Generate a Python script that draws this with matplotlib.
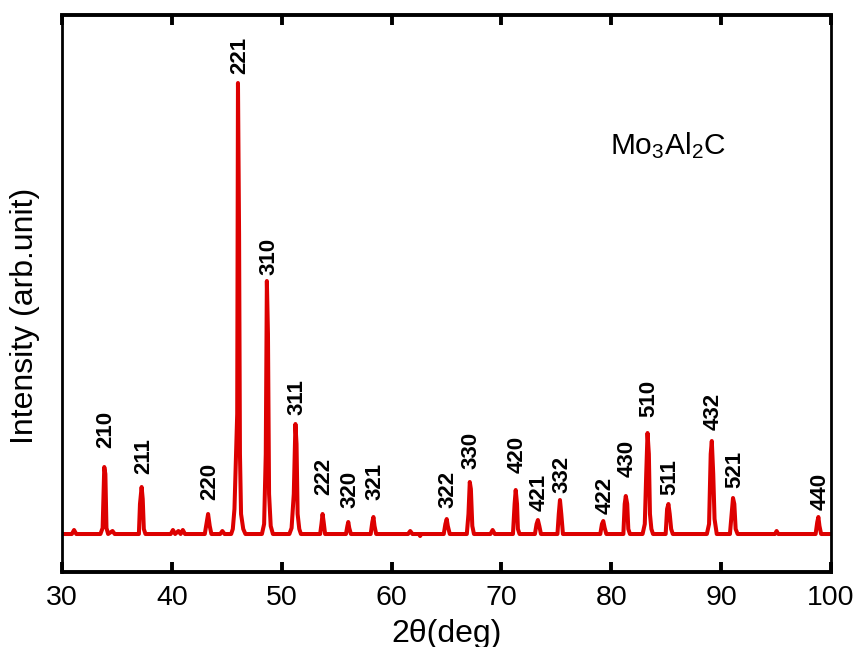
import numpy as np
import matplotlib.pyplot as plt

plt.rcParams['font.family'] = ['Liberation Sans', 'DejaVu Sans']
plt.rcParams['mathtext.fontset'] = 'custom'
plt.rcParams['mathtext.rm'] = 'Liberation Sans'
plt.rcParams['mathtext.it'] = 'Liberation Sans:italic'

# XRD pattern (2theta in deg, intensity in arb. units)
two_theta = [30.0, 30.9, 31.1, 31.3,
             33.5, 33.7, 33.85, 33.95, 34.05, 34.2, 34.6, 34.8,
             37.0, 37.1, 37.25, 37.35, 37.45, 37.6,
             39.9, 40.1, 40.3, 40.6, 40.8, 41.0, 41.2,
             43.0, 43.15, 43.3, 43.45, 43.6, 44.4, 44.6, 44.8,
             45.4, 45.55, 45.7, 45.95, 46.02, 46.12, 46.2, 46.3, 46.5, 46.7,
             48.2, 48.4, 48.55, 48.65, 48.75, 48.85, 49.0, 49.2,
             50.7, 50.9, 51.1, 51.25, 51.35, 51.45, 51.6, 51.75,
             53.5, 53.62, 53.72, 53.82, 53.95,
             55.85, 55.98, 56.06, 56.15, 56.3,
             58.1, 58.25, 58.35, 58.45, 58.6,
             61.5, 61.7, 61.9, 62.5, 62.6, 62.7,
             64.75, 64.9, 65.02, 65.12, 65.3,
             66.85, 67.0, 67.12, 67.22, 67.35, 67.5,
             69.0, 69.2, 69.4,
             71.05, 71.2, 71.3, 71.42, 71.5, 71.65,
             73.05, 73.2, 73.32, 73.45, 73.6,
             75.1, 75.22, 75.33, 75.45, 75.6,
             79.0, 79.15, 79.27, 79.4, 79.55,
             81.1, 81.22, 81.32, 81.45, 81.55, 81.7,
             82.85, 83.05, 83.18, 83.3, 83.42, 83.52, 83.65, 83.8,
             84.95, 85.08, 85.2, 85.32, 85.45, 85.6,
             88.7, 88.9, 89.05, 89.15, 89.28, 89.4, 89.6,
             90.8, 90.95, 91.08, 91.2, 91.32, 91.5,
             94.9, 95.05, 95.2,
             98.6, 98.75, 98.85, 98.95, 99.1, 100.0]
intensity = [0, 0, 4, 0,
             0, 6, 67, 60, 6, 0, 3, 0,
             0, 30, 47, 35, 5, 0,
             0, 4, 0, 3, 0, 4, 0,
             0, 10, 20, 8, 0, 0, 3, 0,
             0, 5, 25, 120, 451, 300, 80, 20, 5, 0,
             0, 10, 80, 253, 200, 40, 8, 0,
             0, 6, 40, 110, 90, 20, 5, 0,
             0, 10, 20, 12, 0,
             0, 8, 12, 6, 0,
             0, 12, 17, 8, 0,
             0, 3, 0, 0, -2, 0,
             0, 10, 15, 8, 0,
             0, 20, 52, 45, 8, 0,
             0, 4, 0,
             0, 30, 44, 30, 5, 0,
             0, 10, 14, 8, 0,
             0, 20, 34, 20, 0,
             0, 10, 13, 6, 0,
             0, 30, 38, 30, 5, 0,
             0, 10, 60, 101, 80, 20, 5, 0,
             0, 25, 30, 20, 5, 0,
             0, 10, 80, 93, 60, 15, 0,
             0, 20, 36, 30, 5, 0,
             0, 3, 0,
             0, 12, 17, 8, 0, 0]

# Miller indices of the indexed reflections
hkl = ['210', '211', '220', '221', '310', '311', '222', '320', '321', '322',
       '330', '420', '421', '332', '422', '430', '510', '511', '432', '521',
       '440']
peak_pos = [33.85, 37.25, 43.3, 46.02, 48.65, 51.25, 53.72, 56.06, 58.35,
            65.02, 67.12, 71.3, 73.32, 75.33, 79.27, 81.32, 83.3, 85.2,
            89.15, 91.08, 98.85]
peak_int = [67, 47, 20, 451, 253, 110, 20, 12, 17, 15,
            52, 44, 14, 34, 13, 38, 101, 30, 93, 36, 17]

# gap between peak top and its label (pixels)
label_gap = [19, 13, 14, 9, 6, 9, 19, 14, 17, 11,
             13, 17, 9, 7, 7, 19, 16, 9, 11, 10, 7]

fig = plt.figure(figsize=(8.56, 6.47), dpi=100)
ax = fig.add_axes([0.0724, 0.1159, 0.8984, 0.8609])

ax.plot(two_theta, intensity, color='#dd0000', lw=2.9, solid_joinstyle='round')

for lab, x, y, g in zip(hkl, peak_pos, peak_int, label_gap):
    ax.annotate(lab, (x + 0.15, y), xytext=(0, g * 0.72),
                textcoords='offset points', rotation=90, ha='center',
                va='bottom', fontsize=16, fontweight='bold')

# compound name, placed in figure pixels
fig.text(610 / 856, 1 - 146 / 647, r'Mo$_3$Al$_2$C', fontsize=21.5,
         ha='left', va='center')

ax.set_xlim(30, 100)
ax.set_ylim(-38, 519)
ax.set_xticks(np.arange(30, 101, 10))
ax.set_yticks([])
ax.tick_params(axis='x', direction='in', length=7, width=2.8, top=True,
               labelsize=20.5, pad=9)
for s in ['top', 'bottom']:
    ax.spines[s].set_linewidth(2.8)
for s in ['left', 'right']:
    ax.spines[s].set_linewidth(2.0)

ax.set_xlabel('2θ(deg)', fontsize=23, labelpad=6)
ax.set_ylabel('Intensity (arb.unit)', fontsize=23)
ax.yaxis.set_label_coords(-0.028, 0.46)

fig.savefig('out.png', dpi=100)
